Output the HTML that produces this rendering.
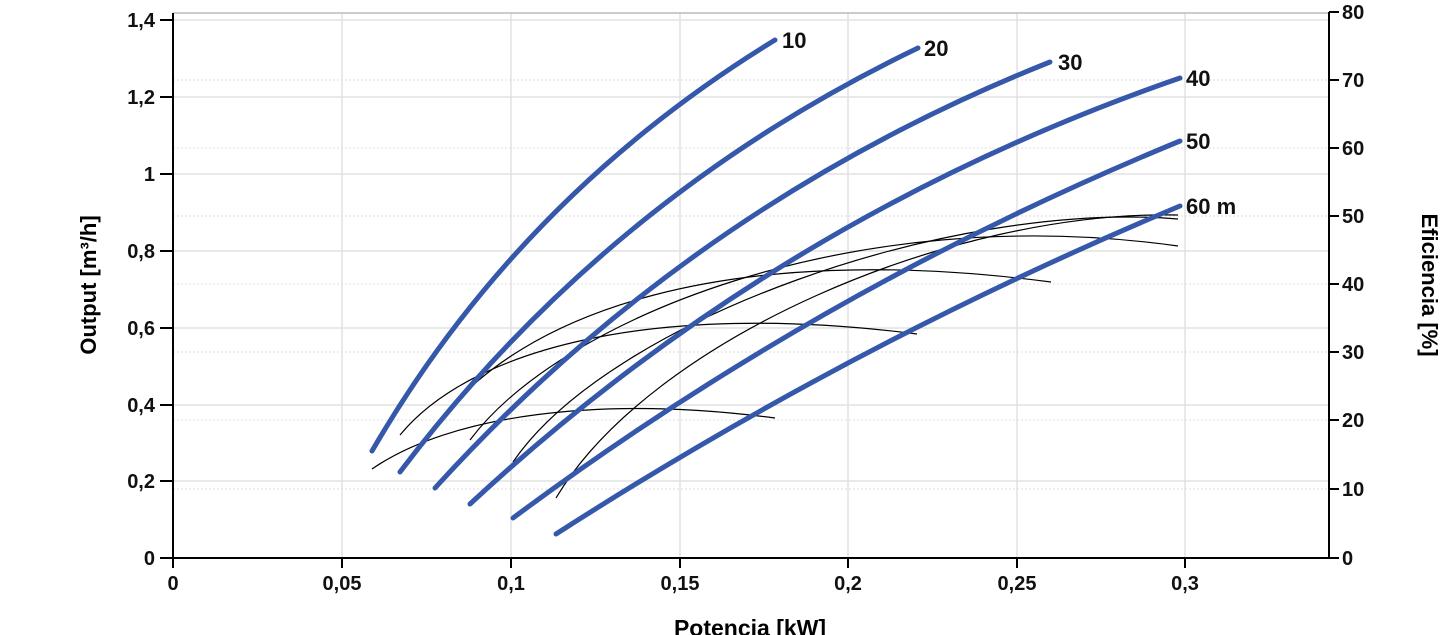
<!DOCTYPE html>
<html><head><meta charset="utf-8"><style>
html,body{margin:0;padding:0;background:#fff;}
svg{display:block;font-family:"Liberation Sans",Arial,sans-serif;}
</style></head><body>
<svg id="s" width="1445" height="635" viewBox="0 0 1445 635" xmlns="http://www.w3.org/2000/svg">
<g stroke="#e2e2e2" stroke-width="1.5">
<line x1="342" y1="13" x2="342" y2="558"/><line x1="511" y1="13" x2="511" y2="558"/>
<line x1="680" y1="13" x2="680" y2="558"/><line x1="848" y1="13" x2="848" y2="558"/>
<line x1="1017" y1="13" x2="1017" y2="558"/><line x1="1185" y1="13" x2="1185" y2="558"/>
<line x1="173" y1="481" x2="1329" y2="481"/><line x1="173" y1="405" x2="1329" y2="405"/>
<line x1="173" y1="328" x2="1329" y2="328"/><line x1="173" y1="251" x2="1329" y2="251"/>
<line x1="173" y1="174" x2="1329" y2="174"/><line x1="173" y1="97" x2="1329" y2="97"/>
<line x1="173" y1="20" x2="1329" y2="20"/>
</g>
<line x1="173" y1="13" x2="1329" y2="13" stroke="#bbb" stroke-width="1.5"/>
<g stroke="#ddd" stroke-width="1" stroke-dasharray="2,2">
<line x1="173" y1="489" x2="1329" y2="489"/><line x1="173" y1="420" x2="1329" y2="420"/>
<line x1="173" y1="352" x2="1329" y2="352"/><line x1="173" y1="284" x2="1329" y2="284"/>
<line x1="173" y1="216" x2="1329" y2="216"/><line x1="173" y1="148" x2="1329" y2="148"/>
<line x1="173" y1="80" x2="1329" y2="80"/>
</g>
<g stroke="#000" stroke-width="2" fill="none">
<line x1="173" y1="13" x2="173" y2="558"/><line x1="160" y1="558" x2="1329" y2="558"/>
<line x1="1329" y1="12" x2="1329" y2="558"/>
<path d="M160 481h13M160 405h13M160 328h13M160 251h13M160 174h13M160 97h13M160 20h13"/>
<path d="M173 558v10M342 558v10M511 558v10M680 558v10M848 558v10M1017 558v10M1185 558v10"/>
<path d="M1329 558h10M1329 489h10M1329 420h10M1329 352h10M1329 284h10M1329 216h10M1329 148h10M1329 80h10M1329 12h10"/>
</g>
<g font-size="20" font-weight="bold" fill="#111" text-anchor="end">
<text x="155" y="565">0</text><text x="155" y="488">0,2</text><text x="155" y="412">0,4</text>
<text x="155" y="335">0,6</text><text x="155" y="258">0,8</text><text x="155" y="181">1</text>
<text x="155" y="104">1,2</text><text x="155" y="27">1,4</text>
</g>
<g font-size="20" font-weight="bold" fill="#111" text-anchor="middle">
<text x="173" y="590">0</text><text x="342" y="590">0,05</text><text x="511" y="590">0,1</text>
<text x="680" y="590">0,15</text><text x="848" y="590">0,2</text><text x="1017" y="590">0,25</text>
<text x="1185" y="590">0,3</text>
</g>
<g font-size="20" font-weight="bold" fill="#111">
<text x="1342" y="565">0</text><text x="1342" y="496">10</text><text x="1342" y="427">20</text>
<text x="1342" y="359">30</text><text x="1342" y="291">40</text><text x="1342" y="223">50</text>
<text x="1342" y="155">60</text><text x="1342" y="87">70</text><text x="1342" y="19">80</text>
</g>
<text x="750" y="636" font-size="23" font-weight="bold" text-anchor="middle">Potencia [kW]</text>
<text transform="translate(96,285) rotate(-90)" font-size="22" font-weight="bold" text-anchor="middle">Output [m³/h]</text>
<text transform="translate(1422,285) rotate(90)" font-size="22" font-weight="bold" text-anchor="middle">Eficiencia [%]</text>
<g stroke="#000" stroke-width="1.2" fill="none">
<path d="M372 469 C450 415 600 395 775 418"/>
<path d="M400 435 C470 350 650 300 917 334"/>
<path d="M435 427 C520 310 730 240 1051 282"/>
<path d="M470 440 C560 320 850 200 1178 246"/>
<path d="M513 462 C610 320 950 200 1178 219"/>
<path d="M556 498 C650 340 950 210 1178 215"/>
</g>
<g id="blue" stroke="#3558ab" stroke-width="5" fill="none" stroke-linecap="round" stroke-linejoin="round"></g>
<g font-size="22" font-weight="bold" fill="#111">
<text x="782" y="48">10</text><text x="924" y="56">20</text><text x="1058" y="70">30</text>
<text x="1186" y="86">40</text><text x="1186" y="149">50</text><text x="1186" y="214">60 m</text>
</g>
</svg>
<script>
var NS="http://www.w3.org/2000/svg";
function mk(g,d){var p=document.createElementNS(NS,"path");p.setAttribute("d",d);document.getElementById(g).appendChild(p);}
function quad(a,m,b){var d1=Math.hypot(m[0]-a[0],m[1]-a[1]),d2=Math.hypot(b[0]-m[0],b[1]-m[1]);var t=d1/(d1+d2),u=1-t;
var cx=(m[0]-u*u*a[0]-t*t*b[0])/(2*t*u),cy=(m[1]-u*u*a[1]-t*t*b[1])/(2*t*u);
return "M"+a[0]+" "+a[1]+" Q"+cx.toFixed(1)+" "+cy.toFixed(1)+" "+b[0]+" "+b[1];}
var blue=[
[[372,451],[510,260],[775,40]],
[[400,472],[680,192],[918,48]],
[[435,488],[720,238],[1050,62]],
[[470,504],[850,226],[1180,78]],
[[513,518],[850,300],[1180,141]],
[[556,534],[850,362],[1180,206]]];
blue.forEach(function(b){mk("blue",quad(b[0],b[1],b[2]));});
</script>
</body></html>
